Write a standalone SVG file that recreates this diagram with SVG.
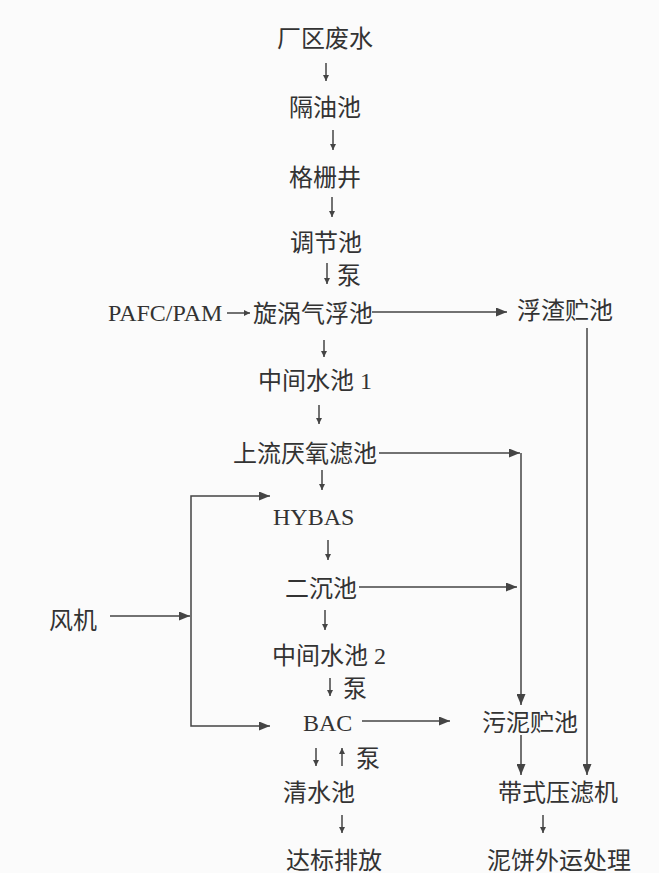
<svg xmlns="http://www.w3.org/2000/svg" width="659" height="873" viewBox="0 0 659 873">
<defs>
<style>
text{font-family:"Liberation Serif","Noto Sans CJK SC",serif;font-size:24px;fill:#333;}
.c line,.c path{stroke:#444;stroke-width:1.5;fill:none;}
.s{marker-end:url(#sm);}
.b{marker-end:url(#bg);}
</style>
<marker id="sm" viewBox="0 0 10 10" refX="10" refY="5" markerWidth="6" markerHeight="6" markerUnits="userSpaceOnUse" orient="auto"><path d="M0,0 L10,5 L0,10 z" fill="#444"/></marker>
<marker id="bg" viewBox="0 0 10 10" refX="10" refY="5" markerWidth="11" markerHeight="9" markerUnits="userSpaceOnUse" orient="auto" preserveAspectRatio="none"><path d="M0,0 L10,5 L0,10 z" fill="#444"/></marker>
</defs>
<rect width="659" height="873" fill="#fbfbfb"/>
<g id="n1"><text x="277" y="47">厂区废水</text></g>
<g id="n2"><text x="289" y="116">隔油池</text></g>
<g id="n3"><text x="289" y="186">格栅井</text></g>
<g id="n4"><text x="290" y="251">调节池</text></g>
<g id="l1"><text x="337" y="284">泵</text></g>
<g id="n5"><text x="108" y="321">PAFC/PAM</text></g>
<g id="n6"><text x="253" y="322">旋涡气浮池</text></g>
<g id="n7"><text x="517" y="319">浮渣贮池</text></g>
<g id="n8"><text x="258" y="389">中间水池 1</text></g>
<g id="n9"><text x="233" y="462">上流厌氧滤池</text></g>
<g id="n10"><text x="273" y="525">HYBAS</text></g>
<g id="n11"><text x="285" y="597">二沉池</text></g>
<g id="n12"><text x="49" y="629">风机</text></g>
<g id="n13"><text x="272" y="664">中间水池 2</text></g>
<g id="l2"><text x="343" y="697">泵</text></g>
<g id="n14"><text x="303" y="731">BAC</text></g>
<g id="n15"><text x="482" y="731">污泥贮池</text></g>
<g id="l3"><text x="356" y="767">泵</text></g>
<g id="n16"><text x="283" y="801">清水池</text></g>
<g id="n17"><text x="498" y="801">带式压滤机</text></g>
<g id="n18"><text x="286" y="869">达标排放</text></g>
<g id="n19"><text x="487" y="869">泥饼外运处理</text></g>
<g id="connectors" class="c">
<line class="s" x1="326" y1="63" x2="326" y2="81"/>
<line class="s" x1="333" y1="130" x2="333" y2="150"/>
<line class="s" x1="332" y1="197" x2="332" y2="217"/>
<line class="s" x1="327" y1="263" x2="327" y2="284"/>
<line class="s" x1="227" y1="313" x2="250" y2="313"/>
<line class="b" x1="372" y1="312" x2="507" y2="312"/>
<line class="b" x1="587" y1="328" x2="587" y2="775"/>
<line class="s" x1="324" y1="340" x2="324" y2="357"/>
<line class="s" x1="319" y1="405" x2="319" y2="424"/>
<line class="b" x1="379" y1="453" x2="520" y2="453"/>
<line class="b" x1="521" y1="453" x2="521" y2="705"/>
<line class="s" x1="322" y1="470" x2="322" y2="490"/>
<path class="b" d="M191,616 V496 H270"/>
<path class="b" d="M191,616 V726 H270"/>
<line class="b" x1="110" y1="616" x2="190" y2="616"/>
<line class="s" x1="328" y1="540" x2="328" y2="560"/>
<line class="b" x1="359" y1="587" x2="517" y2="587"/>
<line class="s" x1="325" y1="610" x2="325" y2="630"/>
<line class="s" x1="330" y1="678" x2="330" y2="696"/>
<line class="b" x1="362" y1="721" x2="450" y2="721"/>
<line class="b" x1="521" y1="735" x2="521" y2="775"/>
<line class="s" x1="316" y1="748" x2="316" y2="766"/>
<line class="s" x1="342" y1="766" x2="342" y2="748"/>
<line class="s" x1="342" y1="815" x2="342" y2="833"/>
<line class="s" x1="543" y1="815" x2="543" y2="833"/>
</g>
</svg>
